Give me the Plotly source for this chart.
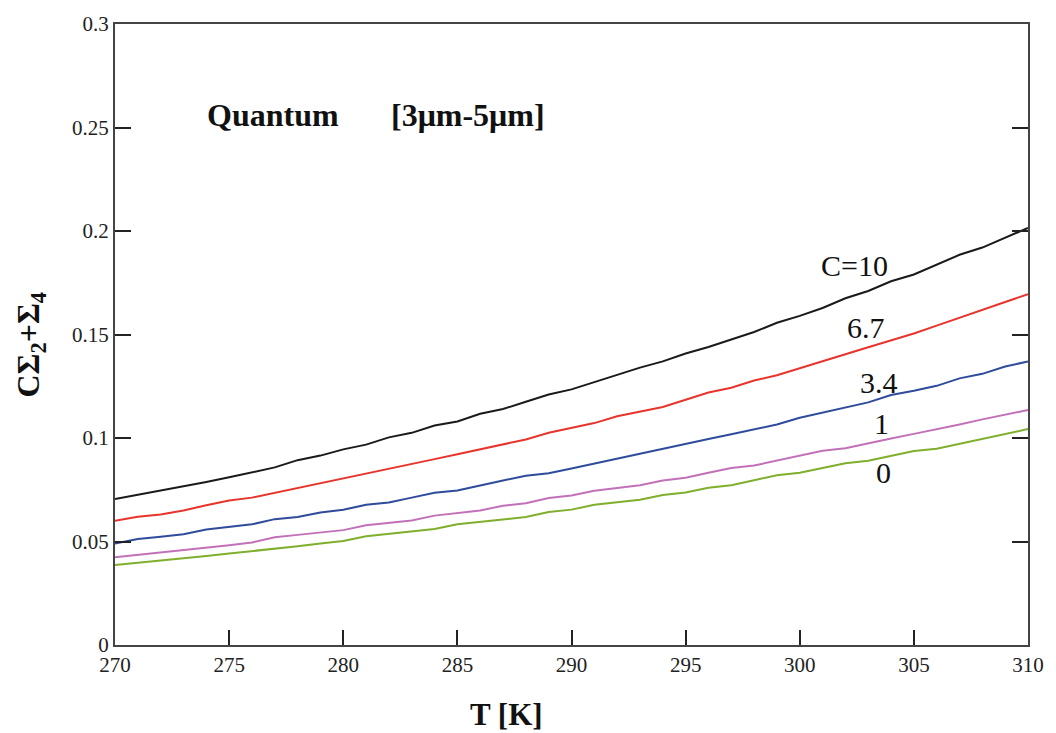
import plotly.graph_objects as go

T = list(range(270, 311))

c10 = [0.0705, 0.0725, 0.0745, 0.0765, 0.0787, 0.081, 0.0835, 0.0858, 0.0893, 0.0915,
       0.0945, 0.0968, 0.1003, 0.1025, 0.106, 0.108, 0.1117, 0.114, 0.1175, 0.121,
       0.1235, 0.127, 0.1305, 0.134, 0.137, 0.1408, 0.144, 0.1475, 0.1512, 0.1557,
       0.159, 0.1628, 0.1675, 0.171, 0.1757, 0.179, 0.1838, 0.1885, 0.192, 0.1967, 0.2015]
c67 = [0.060, 0.062, 0.063, 0.065, 0.0675, 0.0698, 0.0712, 0.0735, 0.0758, 0.078,
       0.0805, 0.0828, 0.085, 0.0875, 0.0898, 0.0922, 0.0945, 0.097, 0.0993, 0.1025,
       0.1048, 0.1072, 0.1105, 0.1128, 0.115, 0.1185, 0.122, 0.1243, 0.1278, 0.1303,
       0.1338, 0.1372, 0.1405, 0.1438, 0.1472, 0.1505, 0.1543, 0.1582, 0.162, 0.1657, 0.1695]
c34 = [0.049, 0.0512, 0.0523, 0.0535, 0.0558, 0.057, 0.0583, 0.0608, 0.0618, 0.064,
       0.0653, 0.0677, 0.0688, 0.0712, 0.0735, 0.0746, 0.0772, 0.0795, 0.0818, 0.083,
       0.0853, 0.0877, 0.0902, 0.0925, 0.0948, 0.0972, 0.0995, 0.1018, 0.1043, 0.1065,
       0.1098, 0.1122, 0.1147, 0.1172, 0.1208, 0.1228, 0.1252, 0.1288, 0.131, 0.1345, 0.137]
c1 = [0.0424, 0.0435, 0.0447, 0.0458, 0.047, 0.0482, 0.0495, 0.052, 0.0532, 0.0543,
      0.0555, 0.0578, 0.059, 0.0602, 0.0625, 0.0637, 0.065, 0.0673, 0.0685, 0.071,
      0.0722, 0.0745, 0.0757, 0.0772, 0.0795, 0.0808, 0.0832, 0.0855, 0.0867, 0.089,
      0.0915, 0.0938, 0.095, 0.0975, 0.0998, 0.102, 0.1042, 0.1065, 0.109, 0.1112, 0.1135]
c0 = [0.0387, 0.0397, 0.0408, 0.0418, 0.043, 0.0442, 0.0453, 0.0465, 0.0477, 0.049,
      0.0502, 0.0525, 0.0537, 0.0549, 0.056, 0.0583, 0.0595, 0.0607, 0.0618, 0.0642,
      0.0654, 0.0678, 0.069, 0.0702, 0.0725, 0.0737, 0.076, 0.0772, 0.0796, 0.082,
      0.0832, 0.0855, 0.0878, 0.089, 0.0913, 0.0937, 0.0948, 0.0972, 0.0996, 0.102, 0.1043]

series = [
    ("C=10", c10, "#1a1a1a"),
    ("6.7", c67, "#e8342c"),
    ("3.4", c34, "#2e4b9c"),
    ("1", c1, "#c271b9"),
    ("0", c0, "#7faf2c"),
]

label_text = ["C=10", "6.7", "3.4", "1", "0"]
label_x = [302.4, 302.9, 303.45, 303.6, 303.65]
label_y = [0.1833, 0.1533, 0.127, 0.1071, 0.0833]

xticks = [270, 275, 280, 285, 290, 295, 300, 305, 310]
yticks = [0, 0.05, 0.1, 0.15, 0.2, 0.25, 0.3]
yticktext = ["0", "0.05", "0.1", "0.15", "0.2", "0.25", "0.3"]

fig = go.Figure()
for name, ys, col in series:
    fig.add_trace(go.Scatter(x=T, y=ys, mode="lines", name=name,
                             line=dict(color=col, width=2), showlegend=False))

serif = "Liberation Serif"

fig.update_layout(
    width=1056, height=733,
    margin=dict(l=115, r=26, t=15, b=88),
    paper_bgcolor="white", plot_bgcolor="white",
    font=dict(family=serif, size=21, color="#222"),
    xaxis=dict(range=[270, 310], tickvals=xticks,
               ticks="inside", ticklen=15, tickwidth=2, tickcolor="#222",
               showline=True, linewidth=2, linecolor="#444", mirror=True,
               showgrid=False, zeroline=False,
               tickfont=dict(family=serif, size=21, color="#222")),
    yaxis=dict(range=[0, 0.3], tickvals=yticks, ticktext=yticktext,
               ticks="inside", ticklen=16, tickwidth=2, tickcolor="#222",
               showline=True, linewidth=2, linecolor="#444", mirror="ticks",
               showgrid=False, zeroline=False,
               tickfont=dict(family=serif, size=21, color="#222")),
)

for t, x, y in zip(label_text, label_x, label_y):
    fig.add_annotation(x=x, y=y, xref="x", yref="y", text=t, showarrow=False,
                       font=dict(family=serif, size=30, color="#111"),
                       xanchor="center", yanchor="middle")

fig.add_annotation(x=(205 - 115) / 915, y=1 - (107 - 15) / 630, xref="paper", yref="paper",
                   text="<b>Quantum</b>", showarrow=False, xanchor="left", yanchor="middle",
                   font=dict(family=serif, size=32, color="#111"))
fig.add_annotation(x=(390 - 115) / 915, y=1 - (107 - 15) / 630, xref="paper", yref="paper",
                   text="<b>[3\u03bcm-5\u03bcm]</b>", showarrow=False, xanchor="left", yanchor="middle",
                   font=dict(family=serif, size=32, color="#111"))

fig.add_annotation(x=(507 - 115) / 915, y=-(715 - 645) / 630, xref="paper", yref="paper",
                   text="<b>T [K]</b>", showarrow=False, xanchor="center", yanchor="middle",
                   font=dict(family=serif, size=31, color="#111"))

fig.add_annotation(x=-(115 - 30) / 915, y=1 - (340 - 15) / 630, xref="paper", yref="paper",
                   text="<b>C\u03a3<sub>2</sub>+\u03a3<sub>4</sub></b>", showarrow=False,
                   textangle=-90, xanchor="center", yanchor="middle",
                   font=dict(family=serif, size=32, color="#111"))

fig.write_html("out.html")
